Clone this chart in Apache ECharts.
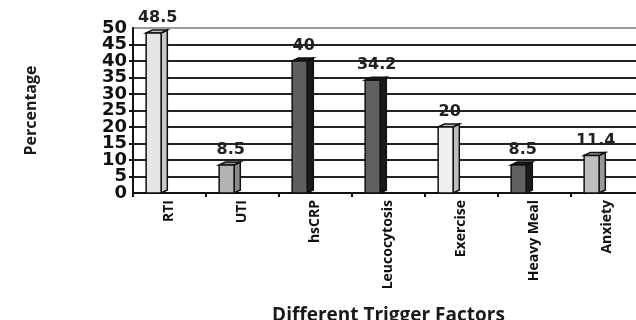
<!DOCTYPE html>
<html>
<head>
<meta charset="utf-8">
<script src="https://cdn.jsdelivr.net/npm/echarts@6/dist/echarts.min.js"></script>
<style>html,body{margin:0;padding:0;background:#fff;}#c{width:636px;height:320px;}</style>
</head>
<body>
<div id="c"></div>
<script>
var categories = ['RTI', 'UTI', 'hsCRP', 'Leucocytosis', 'Exercise', 'Heavy Meal', 'Anxiety'];
var values = [48.5, 8.5, 40, 34.2, 20, 8.5, 11.4];
var yTicks = [0, 5, 10, 15, 20, 25, 30, 35, 40, 45, 50];

var frontColors = ['#e6e6e6', '#b3b3b3', '#5f5f5f', '#606060', '#efefef', '#606060', '#bfbfbf'];
var sideColors  = ['#c8c8c8', '#8a8a8a', '#1a1a1a', '#1a1a1a', '#bdbdbd', '#1a1a1a', '#999999'];

var chart = echarts.init(document.getElementById('c'), null, {renderer: 'canvas'});

var splitColors = yTicks.map(function (t, i) { return i === yTicks.length - 1 ? 'rgba(0,0,0,0)' : '#222'; });
var yLabelStyle = {margin: 6, fontFamily: 'DejaVu Sans', fontWeight: 'bold', fontSize: 18, color: '#111',
  formatter: function (v) { return yTicks.indexOf(v) >= 0 ? String(v) : ''; }};

chart.setOption({
  animation: false,
  grid: {left: 133, top: 28, width: 511, height: 165, show: true, borderColor: '#9a9a9a', borderWidth: 2,
    backgroundColor: '#fff', containLabel: false, outerBoundsMode: 'none'},
  xAxis: {
    type: 'category',
    data: categories,
    boundaryGap: true,
    name: 'Different Trigger Factors',
    nameLocation: 'middle',
    nameGap: 113,
    nameTextStyle: {fontFamily: 'Open Sans', fontWeight: 'bold', fontSize: 19, color: '#1a1a1a'},
    axisLine: {lineStyle: {color: '#111', width: 2}},
    axisTick: {show: true, length: 4, lineStyle: {color: '#111', width: 2}},
    axisLabel: {rotate: 90, margin: 7, fontFamily: 'Open Sans', fontWeight: 'bold', fontSize: 14, color: '#111', interval: 0},
    splitLine: {show: false}
  },
  yAxis: [{
    type: 'value',
    min: 0, max: 50, interval: 5,
    position: 'left',
    name: 'Percentage',
    nameLocation: 'middle',
    nameGap: 94,
    nameTextStyle: {fontFamily: 'Open Sans', fontWeight: 'bold', fontSize: 16, color: '#1a1a1a'},
    axisLine: {show: true, lineStyle: {color: '#111', width: 2}},
    axisTick: {show: true, length: 4, lineStyle: {color: '#111', width: 2}},
    axisLabel: yLabelStyle,
    splitLine: {show: true, lineStyle: {color: splitColors, width: 2}}
  }, {
    type: 'value',
    min: 0, max: 50, interval: 50,
    position: 'left',
    offset: 0,
    axisLine: {show: false},
    axisTick: {show: false},
    axisLabel: yLabelStyle,
    splitLine: {show: false}
  }],
  series: [{
    type: 'custom',
    yAxisIndex: 0,
    data: values.map(function (v, i) { return [i, v]; }),
    renderItem: function (params, api) {
      var i = api.value(0);
      var v = api.value(1);
      var top = api.coord([i, v]);
      var base = api.coord([i, 0]);
      var cw = api.size([1, 0])[0];
      var fw = cw * 0.205;
      var depth = cw * 0.085;
      var dy = 3;
      var left = top[0] - cw * 0.32;
      var right = left + fw;
      var y0 = base[1];
      var y1 = top[1];
      var lw = 1.5;
      var stroke = '#111';
      return {
        type: 'group',
        children: [
          {type: 'polygon', shape: {points: [[right, y1], [right + depth, y1 - dy], [right + depth, y0 - dy], [right, y0]]},
            style: {fill: sideColors[i], stroke: stroke, lineWidth: lw}},
          {type: 'polygon', shape: {points: [[left, y1], [left + depth, y1 - dy], [right + depth, y1 - dy], [right, y1]]},
            style: {fill: sideColors[i], stroke: stroke, lineWidth: lw}},
          {type: 'rect', shape: {x: left, y: y1, width: fw, height: y0 - y1},
            style: {fill: frontColors[i], stroke: stroke, lineWidth: lw}},
          {type: 'text', x: left + (fw + depth) / 2 + 1, y: y1 - 15,
            style: {text: String(v), fill: '#222', font: 'bold 16px "DejaVu Sans"', align: 'center', verticalAlign: 'middle'}}
        ]
      };
    },
    z: 3
  }]
});
</script>
</body>
</html>
